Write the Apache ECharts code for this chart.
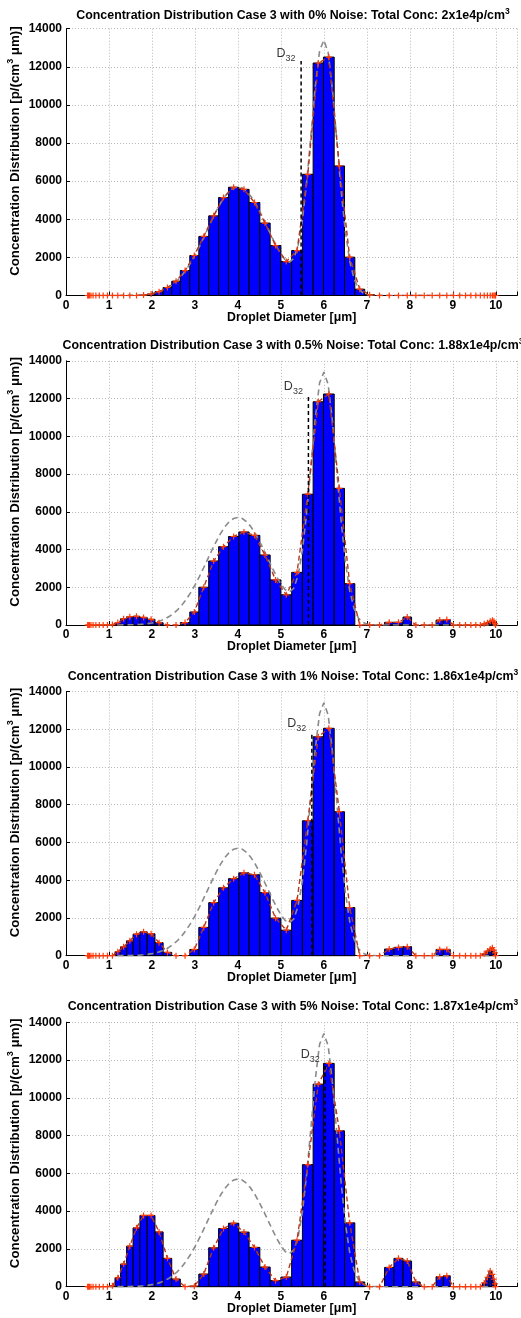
<!DOCTYPE html>
<html><head><meta charset="utf-8">
<script src="https://cdn.jsdelivr.net/npm/echarts@6/dist/echarts.min.js"></script>
<style>html,body{margin:0;padding:0;background:#fff}#c{width:521px;height:1318px}</style>
</head><body><div id="c"></div>
<script>
// bin edges of the size classes (droplet diameter, µm)
const binEdges = [0.50,0.51,0.53,0.56,0.60,0.66,0.73,0.82,0.91,1.02,1.14,1.27,1.41,1.56,1.72,1.89,2.07,2.26,2.46,2.66,2.88,3.09,3.32,3.55,3.78,4.02,4.26,4.51,4.75,5.00,5.25,5.50,5.75,5.99,6.24,6.48,6.72,6.95,7.18,7.41,7.63,7.84,8.04,8.24,8.43,8.61,8.78,8.94,9.09,9.23,9.36,9.48,9.59,9.69,9.77,9.84,9.90,9.94,9.97,9.99,10.00];
// reconstructed concentration per bin (one value per bin)
const conc0  = [0,0,0,0,0,0,0,0,0,0,0,0,0,0,20,80,200,420,750,1310,2100,3100,4180,5140,5680,5570,4880,3800,2620,1780,2360,6360,12200,12510,6800,2010,330,40,0,0,0,0,0,0,0,0,0,0,0,0,0,0,0,0,0,0,0,0,0,0];
const conc05 = [0,0,0,0,0,0,0,0,0,20,130,330,440,460,400,300,120,0,0,130,690,2000,3390,4150,4690,4930,4750,3710,2390,1600,2790,6930,11830,12240,7240,2190,0,0,0,140,140,420,0,0,0,260,290,0,0,0,0,0,0,60,120,200,250,200,80,0];
const conc1  = [0,0,0,0,0,0,0,0,0,0,210,470,790,1140,1265,1160,690,175,0,0,330,1500,2810,3600,4080,4390,4290,3340,1990,1350,2930,7150,11600,12050,7630,2550,0,0,0,350,440,480,0,0,0,330,330,0,0,0,0,0,0,100,250,350,420,300,150,0];
const conc5  = [0,0,0,0,0,0,0,0,0,50,475,1200,2150,3115,3770,3770,2900,1500,405,0,30,670,2060,3080,3360,2890,2080,1040,320,510,2460,6460,10720,11820,8250,3380,250,0,0,1020,1500,1360,250,0,0,530,580,0,0,0,0,0,0,200,500,830,650,400,150,0];
// true (reference) distribution, grey dashed
const trueX = [0.5,1.0,1.2,1.4,1.5,1.6,1.7,1.8,1.9,2.0,2.1,2.2,2.3,2.4,2.5,2.6,2.7,2.8,2.9,3.0,3.1,3.2,3.3,3.4,3.5,3.6,3.7,3.8,3.9,4.0,4.1,4.2,4.3,4.4,4.5,4.6,4.7,4.8,4.9,5.0,5.1,5.2,5.3,5.4,5.5,5.6,5.7,5.8,5.9,6.0,6.1,6.2,6.3,6.4,6.5,6.6,6.7,6.8,6.9,7.0,7.1,7.2,7.3,7.5,10.0];
const trueY = [0,0,2,7,12,19,30,47,72,108,159,229,324,450,612,816,1066,1366,1716,2114,2552,3021,3506,3989,4448,4865,5213,5478,5644,5700,5644,5478,5213,4865,4448,3989,3507,3025,2568,2166,1865,1749,1947,2629,3954,5958,8451,10962,12834,13400,12747,10780,8157,5527,3354,1820,885,385,149,52,16,4,0,0,0];
const noiseLevels = ['0%','0.5%','1%','5%'];
const totalConc = ['2','1.88','1.86','1.87'];
const d32X   = [5.47,5.64,5.72,6.03];
const d32Top = [12300,12190,11870,11840];

const panels = [conc0, conc05, conc1, conc5];
const gridTop = [28.7,360.8,691.5,1022.2];
const gridH = [266.8,264.2,264.2,264.5];
const titleTop = [2,332.5,662.8,992.8];
const FF = '"Liberation Sans", Arial, Helvetica, sans-serif';

const plusPath = 'path://M4,0H6V4H10V6H6V10H4V6H0V4H4Z';
const grids=[], xAxes=[], yAxes=[], series=[], titles=[];
for (let i=0;i<4;i++){
  grids.push({left:66, right:3.7, top:gridTop[i], height:gridH[i], containLabel:false, outerBoundsMode:'none'});
  titles.push({
    text:'{t|Concentration Distribution Case 3 with '+noiseLevels[i]+' Noise: Total Conc: '+totalConc[i]+'x1e4p/cm}{s|3}',
    left:288, textAlign:'center', top:titleTop[i],
    textStyle:{rich:{t:{fontFamily:FF,fontWeight:'bold',fontSize:12.4,color:'#000'},
                     s:{fontFamily:FF,fontWeight:'bold',fontSize:8.5,color:'#000',padding:[0,0,8,0]}}}
  });
  xAxes.push({type:'value', gridIndex:i, min:0, max:10.5, interval:1,
    axisLine:{show:true,lineStyle:{color:'#000',width:1}},
    axisTick:{show:true,inside:true,length:4,lineStyle:{color:'#000'}},
    axisLabel:{fontFamily:FF,fontWeight:'bold',fontSize:12,color:'#000',margin:4,
      formatter:v=>Number.isInteger(v)?String(v):''},
    splitLine:{show:true,lineStyle:{color:'#b8b8b8',type:[1,2],width:1}},
    name:'{n|Droplet Diameter [μm]}', nameLocation:'middle', nameGap:16, nameMoveOverlap:false,
    nameTextStyle:{rich:{n:{fontFamily:FF,fontWeight:'bold',fontSize:12.3,color:'#000'}}}
  });
  yAxes.push({type:'value', gridIndex:i, min:0, max:14000, interval:2000,
    axisLine:{show:true,lineStyle:{color:'#000',width:1}},
    axisTick:{show:true,inside:true,length:4,lineStyle:{color:'#000'}},
    axisLabel:{fontFamily:FF,fontWeight:'bold',fontSize:12,color:'#000',margin:4,formatter:v=>String(v)},
    splitLine:{show:true,lineStyle:{color:'#b8b8b8',type:[1,2],width:1}},
    name:'{n|Concentration Distribution [p/(cm}{s|3}{n| μm)]}', nameLocation:'middle', nameGap:42, nameMoveOverlap:false,
    nameTextStyle:{padding:[0,0,0,22],rich:{n:{fontFamily:FF,fontWeight:'bold',fontSize:13.3,color:'#000'},
      s:{fontFamily:FF,fontWeight:'bold',fontSize:9,color:'#000',padding:[0,0,9,0]}}}
  });
  const vals = panels[i];
  series.push({type:'custom', xAxisIndex:i, yAxisIndex:i, z:2,
    data: vals.map((h,k)=>[binEdges[k],binEdges[k+1],h]),
    encode:{x:[0,1],y:2},
    renderItem:(params,api)=>{
      const h=api.value(2); if(!(h>0)) return null;
      const p0=api.coord([api.value(0),h]), p1=api.coord([api.value(1),0]);
      return {type:'rect',shape:{x:p0[0],y:p0[1],width:p1[0]-p0[0],height:p1[1]-p0[1]},
        style:{fill:'#0000ff',stroke:'#000',lineWidth:1}};
    }});
  series.push({type:'line', xAxisIndex:i, yAxisIndex:i, z:3, symbol:'none',
    data: trueX.map((x,k)=>[x,trueY[k]]),
    lineStyle:{color:'#8a8a8a',width:1.6,type:[6,4]}});
  series.push({type:'line', xAxisIndex:i, yAxisIndex:i, z:4, symbol:plusPath, symbolSize:6,
    data: vals.map((h,k)=>[(binEdges[k]+binEdges[k+1])/2,h]),
    itemStyle:{color:'#ff3a0a'},
    lineStyle:{color:'#b0391c',width:1.4,type:[5,3]}});
  series.push({type:'line', xAxisIndex:i, yAxisIndex:i, z:5, symbol:'none',
    data:[[d32X[i],0],[d32X[i],d32Top[i]]],
    lineStyle:{color:'#000',width:1.5,type:[4,3]}});
  series.push({type:'scatter', xAxisIndex:i, yAxisIndex:i, z:6, symbolSize:1,
    itemStyle:{color:'rgba(0,0,0,0)'},
    data:[[d32X[i],d32Top[i]]],
    label:{show:true,position:'left',distance:5,offset:[0,-8],formatter:'{d|D}{s|32}',
      rich:{d:{fontFamily:FF,fontSize:12.5,color:'#000'},
            s:{fontFamily:FF,fontSize:9,color:'#000',padding:[10,0,0,0]}}}});
}
const chart = echarts.init(document.getElementById('c'),null,{renderer:'canvas'});
chart.setOption({animation:false, backgroundColor:'#fff', title:titles, grid:grids, xAxis:xAxes, yAxis:yAxes, series:series});
</script></body></html>
